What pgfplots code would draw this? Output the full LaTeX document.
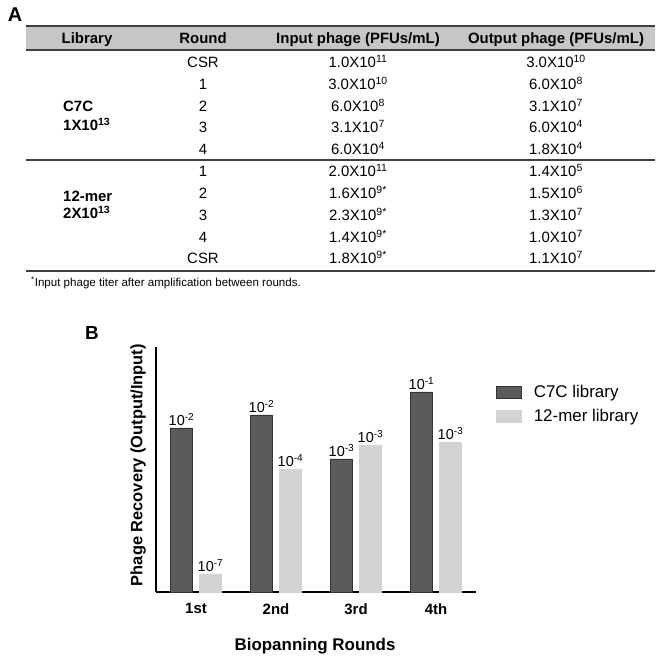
\documentclass[border=0pt]{standalone}
\usepackage{fontspec}
\setmainfont{Liberation Sans}
\usepackage{pgfplots}
\pgfplotsset{compat=1.18}
\usepackage{pgfplotstable}
\definecolor{darkbar}{HTML}{5B5B5B}
\definecolor{darkedge}{HTML}{333333}
\definecolor{lightbar}{HTML}{D3D3D3}
\definecolor{headgray}{HTML}{C6C6C6}
\definecolor{rulec}{HTML}{404040}
\newcommand{\sci}[2]{#1X10\textsuperscript{#2}}

% bar heights (relative, no scale shown) and exponent labels
\pgfplotstableread{
x h e
0 164 -2
1 177 -2
2 133 -3
3 200 -1
}\cseven
\pgfplotstableread{
x h e
0 18 -7
1 123 -4
2 147 -3
3 150 -3
}\twelve

\begin{document}
\begin{tikzpicture}[x=1bp,y=1bp]
\path (0,0) rectangle (660,657);
% ---------------- Panel A ----------------
\node[font=\fontsize{20}{24}\selectfont\bfseries] at (15,642) {A};
\fill[headgray] (26,631) rectangle (655,607);
\draw[rulec, line width=1.3bp] (26,631) -- (655,631);
\draw[rulec, line width=1.3bp] (26,607) -- (655,607);
\draw[rulec, line width=1.3bp] (26,497) -- (655,497);
\draw[rulec, line width=1.3bp] (26,386) -- (655,386);
\begin{scope}[every node/.style={font=\fontsize{15}{18}\selectfont\bfseries, anchor=base, inner sep=0pt}]
\node at (87,613.5) {Library};
\node at (203,613.5) {Round};
\node at (358,613.5) {Input phage (PFUs/mL)};
\node at (556,613.5) {Output phage (PFUs/mL)};
\node[anchor=base west] at (63,545.5) {C7C};
\node[anchor=base west] at (63,526) {\sci{1}{13}};
\node[anchor=base west] at (63,455) {12-mer};
\node[anchor=base west] at (63,438.5) {\sci{2}{13}};
\end{scope}
\begin{scope}[every node/.style={font=\fontsize{15}{18}\selectfont, anchor=base, inner sep=0pt}]
% C7C rows
\node at (203,589) {CSR}; \node at (358,589) {\sci{1.0}{11}}; \node at (556,589) {\sci{3.0}{10}};
\node at (203,567) {1};   \node at (358,567) {\sci{3.0}{10}}; \node at (556,567) {\sci{6.0}{8}};
\node at (203,545) {2};   \node at (358,545) {\sci{6.0}{8}};  \node at (556,545) {\sci{3.1}{7}};
\node at (203,524) {3};   \node at (358,524) {\sci{3.1}{7}};  \node at (556,524) {\sci{6.0}{4}};
\node at (203,502) {4};   \node at (358,502) {\sci{6.0}{4}};  \node at (556,502) {\sci{1.8}{4}};
% 12-mer rows
\node at (203,480) {1};   \node at (358,480) {\sci{2.0}{11}}; \node at (556,480) {\sci{1.4}{5}};
\node at (203,458) {2};   \node at (358,458) {\sci{1.6}{9*}}; \node at (556,458) {\sci{1.5}{6}};
\node at (203,436) {3};   \node at (358,436) {\sci{2.3}{9*}}; \node at (556,436) {\sci{1.3}{7}};
\node at (203,414) {4};   \node at (358,414) {\sci{1.4}{9*}}; \node at (556,414) {\sci{1.0}{7}};
\node at (203,393) {CSR}; \node at (358,393) {\sci{1.8}{9*}}; \node at (556,393) {\sci{1.1}{7}};
\end{scope}
\node[font=\fontsize{11.6}{14}\selectfont, anchor=base west, inner sep=0pt] at (31,370)
  {\textsuperscript{*}Input phage titer after amplification between rounds.};
% ---------------- Panel B ----------------
\node[font=\fontsize{19}{22}\selectfont\bfseries] at (92,324) {B};
\begin{axis}[
  at={(195,65)}, anchor=south west,
  scale only axis, width=320bp, height=245bp,
  xmin=-0.5, xmax=3.5, ymin=0, ymax=245,
  axis x line=bottom, axis y line=left,
  axis line style={-, line width=1.6bp, black},
  ytick=\empty,
  xtick={0,1,2,3}, xticklabels={1st,2nd,3rd,4th},
  major tick length=0pt,
  xticklabel style={font=\fontsize{15}{18}\selectfont\bfseries, yshift=-8bp},
  xlabel={Biopanning Rounds},
  xlabel style={font=\fontsize{17}{20}\selectfont\bfseries, at={(axis description cs:0.497,-0.22)}, anchor=center},
  ylabel={Phage Recovery (Output/Input)},
  ylabel style={font=\fontsize{16.5}{20}\selectfont\bfseries, at={(axis description cs:-0.056,0.518)}, anchor=center},
  clip=false,
  legend style={at={(rel axis cs:1.0625,0.853)}, anchor=north west, draw=none, fill=none,
    font=\fontsize{17}{20}\selectfont, row sep=6.5bp, inner sep=0pt,
    nodes={inner sep=2bp},
    /tikz/every odd column/.append style={column sep=10bp}},
  legend cell align=left,
  legend image code/.code={\fill[#1] (0bp,-6bp) rectangle (25bp,6bp);},
]
\addplot[ybar, bar width=22bp, bar shift=-14.5bp, fill=darkbar, draw=darkedge, line width=0.6bp,
  point meta=explicit symbolic,
  nodes near coords={10\textsuperscript{\pgfplotspointmeta}},
  nodes near coords style={font=\fontsize{14.5}{17}\selectfont, anchor=south, inner sep=2bp, text=black, xshift=-14.5bp}]
  table[x=x, y=h, meta=e] {\cseven};
\addlegendentry{C7C library}
\addplot[ybar, bar width=22bp, bar shift=14.5bp, fill=lightbar, draw=lightbar, line width=0.6bp,
  point meta=explicit symbolic,
  nodes near coords={10\textsuperscript{\pgfplotspointmeta}},
  nodes near coords style={font=\fontsize{14.5}{17}\selectfont, anchor=south, inner sep=2bp, text=black, xshift=14.5bp}]
  table[x=x, y=h, meta=e] {\twelve};
\addlegendentry{12-mer library}
\end{axis}
\end{tikzpicture}
\end{document}
